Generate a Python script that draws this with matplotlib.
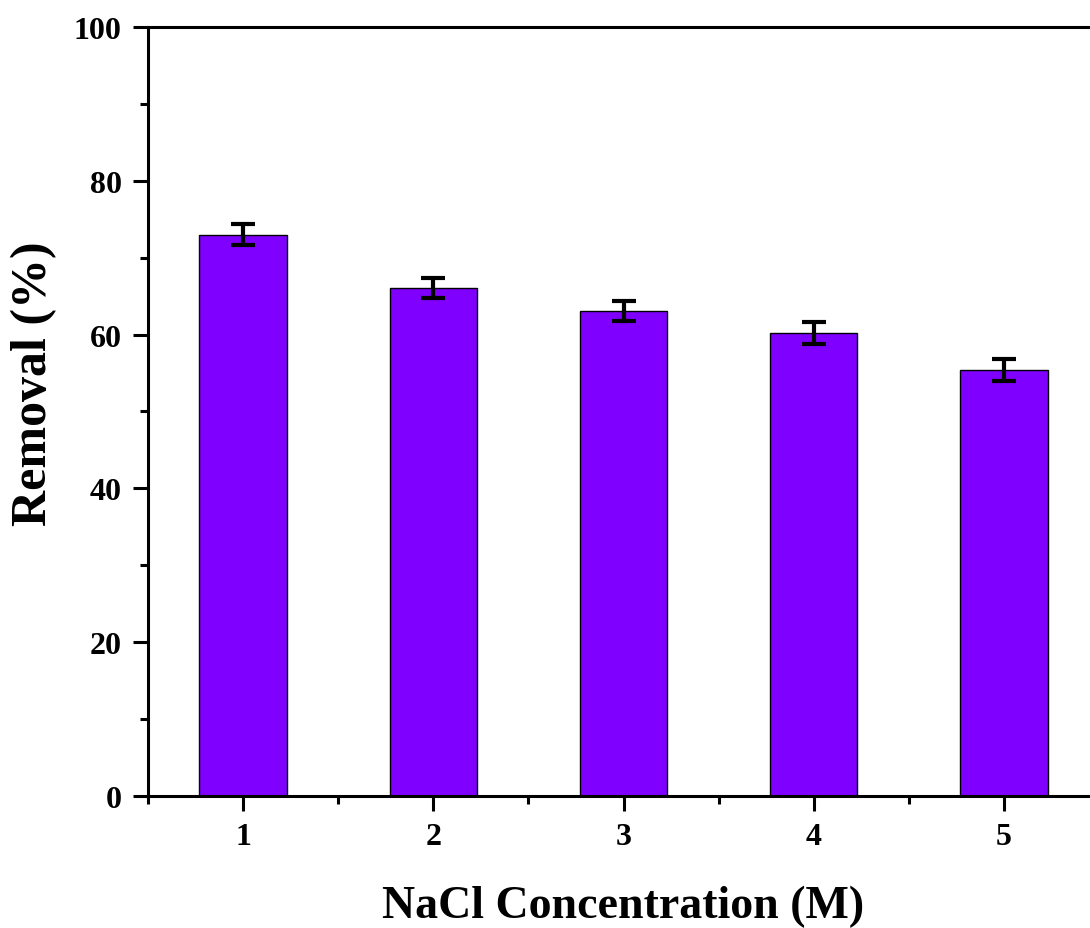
import matplotlib
matplotlib.use("Agg")
import matplotlib.pyplot as plt
from matplotlib.ticker import MultipleLocator

# data
conc = [1, 2, 3, 4, 5]
removal = [73.0, 66.0, 63.1, 60.2, 55.4]
err = [1.4, 1.3, 1.3, 1.4, 1.4]

plt.rcParams['font.family'] = ['Liberation Serif', 'DejaVu Serif']
plt.rcParams['font.weight'] = 'bold'

fig = plt.figure(figsize=(10.9, 9.29), dpi=100)
ax = fig.add_axes([0.1358, 0.1421, 0.8725, 0.8278])

ax.bar(conc, removal, width=0.46, color='#7f00ff', edgecolor='black', linewidth=1.0)
ax.errorbar(conc, removal, yerr=err, fmt='none', ecolor='black',
            elinewidth=3, capsize=8.5, capthick=3)

ax.set_xlim(0.5, 5.5)
ax.set_ylim(0, 100)
ax.xaxis.set_major_locator(MultipleLocator(1))
ax.xaxis.set_minor_locator(MultipleLocator(0.5))
ax.yaxis.set_major_locator(MultipleLocator(20))
ax.yaxis.set_minor_locator(MultipleLocator(10))

for s in ax.spines.values():
    s.set_linewidth(2.2)

ax.tick_params(which='major', direction='out', length=11, width=2.2, labelsize=23, pad=8)
ax.tick_params(which='minor', direction='out', length=6, width=2.2)
ax.tick_params(top=False, right=False, which='both')

ax.set_xlabel('NaCl Concentration (M)', fontsize=33, fontweight='bold', labelpad=24)
ax.set_ylabel('Removal (%)', fontsize=36, fontweight='bold', labelpad=12, y=0.538)

fig.savefig('out.png', dpi=100)
